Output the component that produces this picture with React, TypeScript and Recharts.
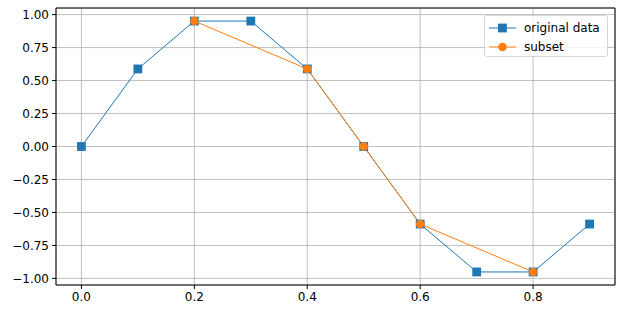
import { LineChart, Line, XAxis, YAxis, CartesianGrid, ReferenceArea } from 'recharts';

// original samples and the subset picked from them
const originalX = [0, 0.1, 0.2, 0.3, 0.4, 0.5, 0.6, 0.7, 0.8, 0.9];
const originalY = [0, 0.588, 0.951, 0.951, 0.588, 0, -0.588, -0.951, -0.951, -0.588];
const subsetX = [0.2, 0.4, 0.5, 0.6, 0.8];
const subsetY = [0.951, 0.588, 0, -0.588, -0.951];

const xTicks = [0, 0.2, 0.4, 0.6, 0.8];
const yTicks = [-1, -0.75, -0.5, -0.25, 0, 0.25, 0.5, 0.75, 1];

const BLUE = '#1f77b4';
const ORANGE = '#ff7f0e';
const FONT = 'DejaVu Sans, sans-serif';
const FS = 12;

const original = originalX.map((x, i) => ({ x, y: originalY[i] }));
const subset = subsetX.map((x, i) => ({ x, y: subsetY[i] }));

const fmt = (v: number, d: number) => v.toFixed(d).replace('-', '\u2212');

function SquareDot(props: any) {
  const { cx, cy, key } = props;
  if (cx == null || cy == null) return null;
  return <rect key={key} x={cx - 4.4} y={cy - 4.4} width={8.8} height={8.8} fill={BLUE} />;
}

function Legend() {
  const rows = [
    { label: 'original data', color: BLUE, square: true },
    { label: 'subset', color: ORANGE, square: false },
  ];
  return (
    <div
      style={{
        position: 'absolute',
        left: 484,
        top: 15,
        width: 122,
        height: 40,
        border: '1px solid #d6d6d6',
        borderRadius: 3,
        background: 'rgba(255,255,255,0.8)',
        fontFamily: FONT,
        fontSize: FS,
      }}
    >
      {rows.map((r, i) => (
        <div key={r.label} style={{ position: 'absolute', left: 3, top: 3 + i * 19, height: 17, display: 'flex', alignItems: 'center' }}>
          <svg width={28} height={12}>
            <line x1={1} x2={28} y1={6} y2={6} stroke={r.color} strokeWidth={1} />
            {r.square ? (
              <rect x={10} y={1.6} width={8.8} height={8.8} fill={r.color} />
            ) : (
              <circle cx={14.5} cy={6} r={4.3} fill={r.color} />
            )}
          </svg>
          <span style={{ marginLeft: 8, color: '#000' }}>{r.label}</span>
        </div>
      ))}
    </div>
  );
}

export default function App() {
  return (
    <div style={{ position: 'absolute', left: 0, top: 0, width: 623, height: 316, background: '#fff' }}>
      <LineChart width={623} height={316} margin={{ top: 8, right: 8, bottom: 0, left: 0 }}>
        <CartesianGrid stroke="#b0b0b0" strokeWidth={0.8} />
        <XAxis
          type="number"
          dataKey="x"
          domain={[-0.045, 0.945]}
          ticks={xTicks}
          tickFormatter={(v: number) => fmt(v, 1)}
          allowDataOverflow
          height={31}
          tickSize={4}
          tickMargin={3}
          axisLine={false}
          tickLine={{ stroke: '#000' }}
          tick={{ fill: '#000', fontSize: FS, fontFamily: FONT }}
        />
        <YAxis
          type="number"
          dataKey="y"
          domain={[-1.05, 1.05]}
          ticks={yTicks}
          tickFormatter={(v: number) => fmt(v, 2)}
          allowDataOverflow
          width={56}
          tickSize={4}
          tickMargin={3}
          axisLine={false}
          tickLine={{ stroke: '#000' }}
          tick={{ fill: '#000', fontSize: FS, fontFamily: FONT }}
        />
        <ReferenceArea x1={-0.045} x2={0.945} y1={-1.05} y2={1.05} fill="none" stroke="#000" strokeWidth={1} ifOverflow="visible" />
        <Line
          data={original}
          dataKey="y"
          stroke={BLUE}
          strokeWidth={1}
          dot={SquareDot}
          activeDot={false}
          isAnimationActive={false}
        />
        <Line
          data={subset}
          dataKey="y"
          stroke={ORANGE}
          strokeWidth={1}
          dot={{ r: 4.3, fill: ORANGE, stroke: 'none' }}
          activeDot={false}
          isAnimationActive={false}
        />
      </LineChart>
      <Legend />
    </div>
  );
}
